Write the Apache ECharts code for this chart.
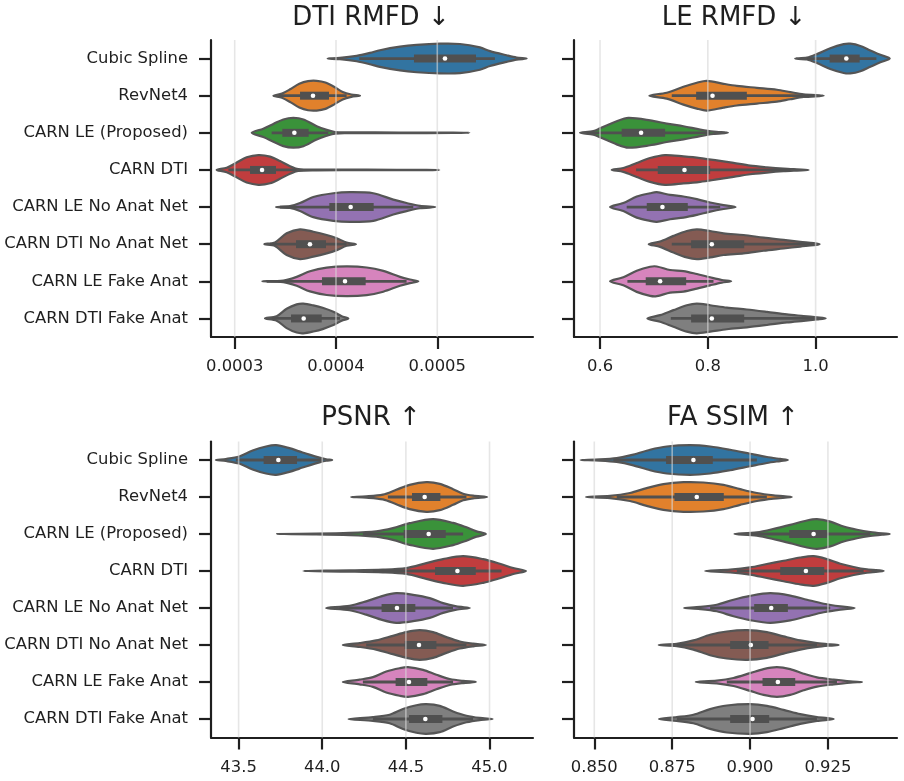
<!DOCTYPE html>
<html><head><meta charset="utf-8">
<script src="https://cdn.jsdelivr.net/npm/echarts@6/dist/echarts.min.js"></script>
<style>html,body{margin:0;padding:0;background:#fff}#c{width:904px;height:781px}</style>
</head><body><div id="c"></div><script>
const categories = ['Cubic Spline','RevNet4','CARN LE (Proposed)','CARN DTI','CARN LE No Anat Net','CARN DTI No Anat Net','CARN LE Fake Anat','CARN DTI Fake Anat'];
const titles = ['DTI RMFD ↓','LE RMFD ↓','PSNR ↑','FA SSIM ↑'];

// violin outlines: [value, relative half-width]
const dtiProfiles = [
 [[3.918e-4,0],[4.039e-4,0.04],[4.204e-4,0.18],[4.336e-4,0.38],[4.434e-4,0.56],[4.632e-4,0.8],[4.796e-4,0.92],[5.026e-4,1.0],[5.224e-4,0.98],[5.421e-4,0.75],[5.520e-4,0.5],[5.684e-4,0.22],[5.783e-4,0.07],[5.882e-4,0]],
 [[3.382e-4,0],[3.467e-4,0.14],[3.553e-4,0.45],[3.638e-4,0.8],[3.724e-4,0.98],[3.809e-4,1.0],[3.895e-4,0.89],[3.980e-4,0.6],[4.066e-4,0.25],[4.151e-4,0.08],[4.237e-4,0]],
 [[3.168e-4,0],[3.283e-4,0.28],[3.382e-4,0.6],[3.480e-4,0.9],[3.579e-4,1.0],[3.678e-4,0.9],[3.809e-4,0.45],[3.908e-4,0.2],[3.990e-4,0.05],[4.138e-4,0.03],[4.632e-4,0.02],[5.158e-4,0.012],[5.316e-4,0]],
 [[2.822e-4,0],[2.921e-4,0.15],[3.020e-4,0.5],[3.118e-4,0.85],[3.234e-4,1.0],[3.349e-4,0.9],[3.447e-4,0.6],[3.546e-4,0.25],[3.628e-4,0.06],[3.809e-4,0.025],[4.303e-4,0.015],[4.895e-4,0.01],[5.020e-4,0]],
 [[3.408e-4,0],[3.546e-4,0.06],[3.645e-4,0.27],[3.776e-4,0.68],[3.974e-4,0.93],[4.138e-4,1.0],[4.368e-4,0.93],[4.566e-4,0.5],[4.697e-4,0.27],[4.829e-4,0.08],[4.980e-4,0]],
 [[3.293e-4,0],[3.398e-4,0.12],[3.513e-4,0.73],[3.645e-4,1.0],[3.776e-4,0.84],[3.908e-4,0.62],[4.007e-4,0.4],[4.105e-4,0.11],[4.197e-4,0]],
 [[3.273e-4,0],[3.480e-4,0.05],[3.612e-4,0.3],[3.743e-4,0.68],[3.908e-4,0.92],[4.105e-4,1.0],[4.303e-4,0.93],[4.467e-4,0.7],[4.632e-4,0.3],[4.730e-4,0.12],[4.813e-4,0]],
 [[3.299e-4,0],[3.414e-4,0.15],[3.513e-4,0.65],[3.612e-4,0.95],[3.678e-4,1.0],[3.776e-4,0.88],[3.875e-4,0.7],[3.974e-4,0.45],[4.056e-4,0.15],[4.122e-4,0]]
];
// [whisker low, q1, median, q3, whisker high]
const dtiStats = [
 [4.230e-4,4.770e-4,5.076e-4,5.382e-4,5.569e-4],
 [3.431e-4,3.645e-4,3.773e-4,3.931e-4,4.105e-4],
 [3.365e-4,3.470e-4,3.589e-4,3.730e-4,3.924e-4],
 [2.938e-4,3.151e-4,3.270e-4,3.408e-4,3.612e-4],
 [3.447e-4,3.934e-4,4.145e-4,4.372e-4,4.763e-4],
 [3.349e-4,3.605e-4,3.743e-4,3.901e-4,4.105e-4],
 [3.316e-4,3.862e-4,4.089e-4,4.293e-4,4.697e-4],
 [3.365e-4,3.556e-4,3.681e-4,3.859e-4,4.040e-4]
];

const leProfiles = [
 [[0.9622,0],[0.9839,0.06],[1.0025,0.3],[1.0272,0.7],[1.0520,0.97],[1.0644,1.0],[1.0830,0.85],[1.1015,0.55],[1.1201,0.25],[1.1375,0]],
 [[0.6916,0],[0.7238,0.2],[0.7548,0.6],[0.7796,0.87],[0.7981,1.0],[0.8291,0.8],[0.8539,0.66],[0.8910,0.53],[0.9282,0.4],[0.9529,0.24],[0.9777,0.09],[1.0149,0]],
 [[0.5628,0],[0.5876,0.12],[0.6,0.3],[0.6310,0.78],[0.6526,1.0],[0.6929,0.84],[0.7238,0.62],[0.7548,0.44],[0.7858,0.22],[0.8105,0.08],[0.8372,0]],
 [[0.6217,0],[0.6433,0.13],[0.6681,0.47],[0.6929,0.8],[0.7207,1.0],[0.7548,0.91],[0.7858,0.8],[0.8167,0.64],[0.8477,0.47],[0.8786,0.29],[0.9096,0.18],[0.9406,0.09],[0.9653,0.04],[0.9870,0]],
 [[0.6186,0],[0.6433,0.27],[0.6681,0.71],[0.6929,0.93],[0.7053,1.0],[0.7300,0.82],[0.7548,0.71],[0.7796,0.53],[0.8043,0.31],[0.8291,0.13],[0.8514,0]],
 [[0.6904,0],[0.7115,0.18],[0.7362,0.56],[0.7610,0.89],[0.7796,1.0],[0.8043,0.89],[0.8291,0.73],[0.8663,0.62],[0.9034,0.44],[0.9406,0.29],[0.9715,0.16],[0.9963,0.07],[1.0074,0]],
 [[0.6186,0],[0.6433,0.27],[0.6681,0.71],[0.6929,0.98],[0.7053,1.0],[0.7300,0.76],[0.7548,0.69],[0.7796,0.49],[0.8043,0.27],[0.8260,0.09],[0.8433,0]],
 [[0.6879,0],[0.7115,0.22],[0.7362,0.56],[0.7610,0.89],[0.7796,1.0],[0.8043,0.89],[0.8353,0.73],[0.8724,0.6],[0.9096,0.44],[0.9467,0.27],[0.9777,0.16],[1.0025,0.07],[1.0186,0]]
];
const leStats = [
 [0.984,1.0260,1.0570,1.0817,1.1127],
 [0.7331,0.7783,0.8087,0.8724,1.0025],
 [0.5752,0.6402,0.6762,0.7207,0.8043],
 [0.6669,0.7071,0.7567,0.8043,0.953],
 [0.6495,0.6867,0.7158,0.7628,0.8229],
 [0.7331,0.7690,0.8074,0.8675,0.9963],
 [0.6508,0.6848,0.7115,0.7598,0.8105],
 [0.7313,0.7690,0.8074,0.8675,1.0025]
];

const psnrProfiles = [
 [[43.3642,0],[43.4241,0.07],[43.5040,0.24],[43.5839,0.64],[43.6638,0.91],[43.7237,1.0],[43.8036,0.8],[43.8635,0.58],[43.9234,0.36],[43.9833,0.16],[44.0233,0.05],[44.0592,0]],
 [[44.1731,0],[44.2629,0.04],[44.3628,0.16],[44.4427,0.49],[44.5226,0.82],[44.6224,1.0],[44.7023,0.89],[44.7822,0.53],[44.8421,0.22],[44.9020,0.09],[44.9859,0]],
 [[43.7297,0],[43.9634,0.02],[44.1631,0.07],[44.3229,0.18],[44.4227,0.4],[44.5226,0.73],[44.6624,1.0],[44.7822,0.75],[44.8621,0.45],[44.9220,0.18],[44.9779,0]],
 [[43.8875,0],[44.1631,0.04],[44.3628,0.09],[44.5026,0.2],[44.6224,0.53],[44.7223,0.8],[44.8421,1.0],[44.9620,0.8],[45.0618,0.49],[45.1417,0.2],[45.2176,0]],
 [[44.0233,0],[44.1631,0.15],[44.2629,0.45],[44.3628,0.82],[44.4427,1.0],[44.5426,0.89],[44.6424,0.67],[44.7223,0.33],[44.8022,0.11],[44.8821,0]],
 [[44.1231,0],[44.2230,0.13],[44.3228,0.31],[44.4227,0.62],[44.5026,0.87],[44.5825,1.0],[44.6624,0.87],[44.7423,0.53],[44.8221,0.24],[44.9020,0.09],[44.9779,0]],
 [[44.1231,0],[44.2230,0.16],[44.3029,0.33],[44.3828,0.71],[44.4627,0.93],[44.5126,1.0],[44.6025,0.82],[44.6824,0.49],[44.7622,0.2],[44.8421,0.07],[44.9180,0]],
 [[44.1571,0],[44.3029,0.13],[44.4027,0.29],[44.4826,0.67],[44.5625,0.93],[44.6224,1.0],[44.7023,0.89],[44.7822,0.51],[44.8621,0.22],[44.9420,0.07],[45.0179,0]]
];
const psnrStats = [
 [43.484,43.6498,43.7377,43.8495,44.003],
 [44.3927,44.5365,44.6124,44.7063,44.862],
 [44.243,44.4866,44.6364,44.7383,44.842],
 [44.303,44.6744,44.8082,44.9180,45.0718],
 [44.103,44.3548,44.4467,44.5565,44.782],
 [44.263,44.4926,44.5785,44.6824,44.862],
 [44.243,44.4387,44.5186,44.6284,44.782],
 [44.303,44.5186,44.6164,44.7183,44.902]
];

const ssimProfiles = [
 [[0.84561,0],[0.85182,0.04],[0.85718,0.13],[0.86254,0.36],[0.86789,0.69],[0.87325,0.91],[0.88075,1.0],[0.88718,0.91],[0.89361,0.69],[0.90004,0.42],[0.90539,0.2],[0.90968,0.07],[0.91214,0]],
 [[0.84732,0],[0.85504,0.07],[0.86146,0.27],[0.86682,0.6],[0.87218,0.87],[0.87861,1.0],[0.88504,0.98],[0.89147,0.82],[0.89682,0.53],[0.90218,0.27],[0.90754,0.11],[0.91343,0]],
 [[0.89500,0],[0.90218,0.11],[0.90861,0.4],[0.91290,0.62],[0.91825,0.91],[0.92147,1.0],[0.92575,0.84],[0.93004,0.51],[0.93433,0.29],[0.93861,0.13],[0.94236,0.04],[0.94482,0]],
 [[0.88557,0],[0.89361,0.09],[0.90004,0.24],[0.90539,0.47],[0.91075,0.69],[0.91611,0.91],[0.92040,1.0],[0.92468,0.8],[0.92897,0.49],[0.93325,0.27],[0.93754,0.11],[0.94290,0]],
 [[0.87882,0],[0.88397,0.07],[0.88932,0.22],[0.89468,0.56],[0.90004,0.82],[0.90647,1.0],[0.91290,0.84],[0.91825,0.56],[0.92361,0.29],[0.92897,0.11],[0.93357,0]],
 [[0.87068,0],[0.87647,0.07],[0.88182,0.31],[0.88718,0.69],[0.89254,0.91],[0.89897,1.0],[0.90539,0.87],[0.91075,0.58],[0.91611,0.31],[0.92147,0.13],[0.92575,0.04],[0.92843,0]],
 [[0.88257,0],[0.88932,0.09],[0.89468,0.27],[0.90004,0.6],[0.90432,0.87],[0.90861,1.0],[0.91290,0.87],[0.91718,0.56],[0.92147,0.31],[0.92683,0.16],[0.93218,0.04],[0.93593,0]],
 [[0.87079,0],[0.87647,0.13],[0.88182,0.29],[0.88718,0.67],[0.89254,0.91],[0.90004,1.0],[0.90539,0.89],[0.91075,0.62],[0.91611,0.33],[0.92147,0.13],[0.92683,0]]
];
const ssimStats = [
 [0.85611,0.87304,0.88182,0.88804,0.90218],
 [0.85718,0.87572,0.88289,0.89157,0.90539],
 [0.90004,0.91257,0.92040,0.92468,0.93861],
 [0.89575,0.90968,0.91793,0.92382,0.93647],
 [0.88718,0.90132,0.90679,0.91214,0.92575],
 [0.87647,0.89361,0.90025,0.90593,0.92147],
 [0.89254,0.90400,0.90893,0.91450,0.92790],
 [0.87647,0.89361,0.90079,0.90614,0.92147]
];

const dtiTicks = [0.0003, 0.0004, 0.0005];
const leTicks = [0.6, 0.8, 1.0];
const psnrTicks = [43.5, 44.0, 44.5, 45.0];
const ssimTicks = [0.850, 0.875, 0.900, 0.925];

const colors = ['#3274a1','#e1812c','#3a923a','#c03d3e','#9372b2','#845b53','#d684bd','#7f7f7f'];
const FONT = 'DejaVu Sans';
const INK = '#1f1f1f';
const INNER = '#505050';

const panels = [
  {prof: dtiProfiles, stats: dtiStats, ticks: dtiTicks, min: 0.0002766, max: 0.0005945, dec: 4,
   grid: {left: 211, top: 40, width: 322, height: 297}, tx: 371, ty: 18},
  {prof: leProfiles, stats: leStats, ticks: leTicks, min: 0.5517, max: 1.151, dec: 1,
   grid: {left: 574, top: 40, width: 323, height: 297}, tx: 734, ty: 18},
  {prof: psnrProfiles, stats: psnrStats, ticks: psnrTicks, min: 43.335, max: 45.26, dec: 1,
   grid: {left: 211, top: 441.5, width: 322, height: 296}, tx: 371, ty: 418.5},
  {prof: ssimProfiles, stats: ssimStats, ticks: ssimTicks, min: 0.84348, max: 0.94717, dec: 3,
   grid: {left: 574, top: 441.5, width: 323, height: 296}, tx: 733, ty: 418.5}
];

function violinRenderer(P, S) {
  return function (params, api) {
    const i = params.dataIndex;
    const prof = P[i], st = S[i];
    const band = api.size([0, 1])[1];
    const hw = band * 0.4;
    const cy = api.coord([st[2], i])[1];
    const X = v => api.coord([v, i])[0];
    const top = prof.map(p => [X(p[0]), cy - p[1] * hw]);
    const inner = prof.slice(1, -1).reverse().map(p => [X(p[0]), cy + p[1] * hw]);
    const pts = top.concat(inner);
    return {
      type: 'group',
      children: [
        {type: 'polygon', shape: {points: pts, smooth: 0.3},
         style: {fill: colors[i], stroke: '#555555', lineWidth: 2.2, lineJoin: 'round'}},
        {type: 'line', shape: {x1: X(st[0]), y1: cy, x2: X(st[4]), y2: cy},
         style: {stroke: INNER, lineWidth: 2.8}},
        {type: 'rect', shape: {x: X(st[1]), y: cy - 4, width: X(st[3]) - X(st[1]), height: 8},
         style: {fill: INNER}},
        {type: 'circle', shape: {cx: X(st[2]), cy: cy, r: 2.3}, style: {fill: '#ffffff'}}
      ]
    };
  };
}

function gridRenderer(params, api) {
  const cs = params.coordSys;
  const x = api.coord([api.value(0), 0])[0];
  return {type: 'line', shape: {x1: x, y1: cs.y, x2: x, y2: cs.y + cs.height},
          style: {stroke: 'rgba(214,214,214,0.62)', lineWidth: 1.6}};
}

const option = {
  animation: false,
  backgroundColor: '#ffffff',
  grid: panels.map(p => p.grid),
  xAxis: panels.map((p, k) => ({
    type: 'value', gridIndex: k, min: p.min, max: p.max,
    axisLine: {show: true, lineStyle: {color: INK, width: 2.2}},
    axisTick: {show: true, length: 12, lineStyle: {color: INK, width: 2.2}, customValues: p.ticks},
    axisLabel: {show: true, customValues: p.ticks, formatter: v => Number(v).toFixed(p.dec),
      fontSize: 16.4, fontFamily: FONT, color: INK, margin: 22},
    splitLine: {show: false}
  })),
  yAxis: panels.map((p, k) => ({
    type: 'category', gridIndex: k, data: categories, inverse: true,
    axisLine: {show: true, lineStyle: {color: INK, width: 2.2}},
    axisTick: {show: true, alignWithLabel: true, length: 12, interval: 0, lineStyle: {color: INK, width: 2.2}},
    axisLabel: {show: k % 2 === 0, interval: 0, fontSize: 16.4, fontFamily: FONT, color: INK, margin: 23},
    splitLine: {show: false}
  })),
  series: [].concat(
    panels.map((p, k) => ({
      type: 'custom', xAxisIndex: k, yAxisIndex: k, z: 2,
      renderItem: violinRenderer(p.prof, p.stats),
      encode: {x: 0, y: 1},
      data: p.stats.map((s, i) => [s[2], i])
    })),
    panels.map((p, k) => ({
      type: 'custom', xAxisIndex: k, yAxisIndex: k, z: 5, silent: true,
      renderItem: gridRenderer,
      encode: {x: 0, y: 1},
      data: p.ticks.map(t => [t, 0])
    }))
  ),
  graphic: panels.map((p, k) => ({
    type: 'text', x: p.tx, y: p.ty,
    style: {text: titles[k], fontSize: 26, fontFamily: FONT, fill: INK,
            align: 'center', verticalAlign: 'middle', textAlign: 'center', textVerticalAlign: 'middle'}
  }))
};

const chart = echarts.init(document.getElementById('c'), null, {renderer: 'canvas'});
chart.setOption(option);
</script></body></html>
